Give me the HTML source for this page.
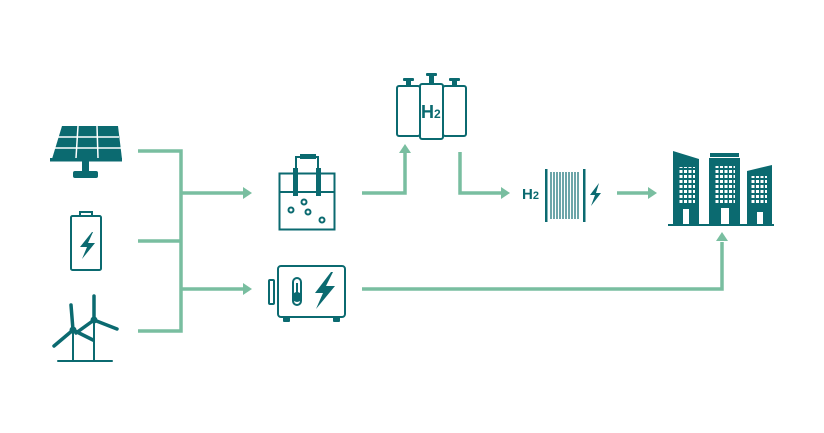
<!DOCTYPE html>
<html><head><style>html,body{margin:0;padding:0;background:#fff}svg{display:block}</style></head><body>
<svg width="824" height="433" viewBox="0 0 824 433" xmlns="http://www.w3.org/2000/svg">
<defs>
<pattern id="win" x="0" y="0" width="4.5" height="5" patternUnits="userSpaceOnUse"><rect x="0" y="0" width="3" height="3" fill="#fff"/></pattern>
</defs>
<g fill="none" stroke="#79bea0" stroke-width="3.5">
<path d="M138 151H181V331H138M138 241H181M181 193H244M181 289H244"/>
<path d="M362 193H405V153"/>
<path d="M460 152V193H502"/>
<path d="M617 193H650"/>
<path d="M362 289H722V242"/>
</g>
<g fill="#79bea0">
<path d="M252 193l-9-6v12z"/><path d="M252 289l-9-6v12z"/>
<path d="M405 144l-6 9h12z"/><path d="M510 193l-9-6v12z"/>
<path d="M657 193l-9-6v12z"/><path d="M722 232l-6 9h12z"/>
</g>
<g fill="#0b6a70" stroke="none">
<path d="M62 126h56l4 33H52z"/>
<rect x="50" y="158" width="72" height="3.5"/>
<rect x="82" y="161" width="7" height="11"/>
<rect x="73" y="171" width="25" height="7" rx="2"/>
</g>
<g stroke="#fff" stroke-width="1.5">
<path d="M55 137H119M53 148H121M78 126L76 158M97 126L98 158"/>
</g>
<g fill="none" stroke="#0b6a70" stroke-width="2">
<rect x="71" y="216" width="30" height="54" rx="1.5"/>
<path d="M80 216v-4h12v4"/>
<rect x="279.5" y="173.5" width="55" height="56"/>
<path d="M279.5 192H334.5"/>
<path d="M296 172v-15h22v15"/>
<circle cx="304" cy="202" r="2.5"/><circle cx="291" cy="210" r="2.5"/><circle cx="308" cy="212" r="2.5"/><circle cx="322" cy="220" r="2.5"/>
<rect x="278" y="266" width="67" height="51" rx="3"/>
<rect x="269" y="280" width="5" height="24" rx="1"/>
<rect x="293" y="278" width="8" height="27" rx="4"/>
<rect x="397" y="86" width="23" height="50" rx="2"/>
<rect x="443" y="86" width="23" height="50" rx="2"/>
<rect x="420" y="84" width="23" height="55" rx="2"/>
</g>
<g fill="#0b6a70">
<path d="M92 232l-12 15h7l-5 12 13-16h-7l5-11z"/>
<rect x="293" y="168" width="5" height="28"/><rect x="316" y="168" width="5" height="28"/>
<rect x="300" y="154" width="16" height="5"/>
<circle cx="297" cy="297" r="5"/><rect x="296" y="283" width="2" height="12"/>
<path d="M331 272l-16 21h8l-7 16 19-23h-9l7-14z"/>
<rect x="283" y="317" width="7" height="5" rx="1"/><rect x="333" y="317" width="7" height="5" rx="1"/>
<rect x="403" y="78" width="11" height="3" rx="1"/><rect x="406" y="81" width="5" height="5"/>
<rect x="426" y="73" width="11" height="3" rx="1"/><rect x="429" y="76" width="5" height="8"/>
<rect x="449" y="78" width="11" height="3" rx="1"/><rect x="452" y="81" width="5" height="5"/>
<rect x="545" y="169" width="2.5" height="53"/><rect x="583" y="169" width="2.5" height="53"/>
<path d="M599 183l-9 12h5l-4 11 10-13h-5l3-10z"/>
<path d="M673 151l26 8v65h-26z"/>
<rect x="709" y="158" width="31" height="66"/><rect x="710" y="153" width="29" height="4"/>
<path d="M747 171l25-6v59h-25z"/>
<rect x="668" y="224" width="106" height="2"/>
</g>
<g stroke="#0b6a70" stroke-width="1.2">
<path d="M551 172v47M554 172v47M557 172v47M560 172v47M563 172v47M566 172v47M569 172v47M572 172v47M575 172v47M578 172v47"/>
</g>
<g>
<rect x="679" y="167" width="16" height="38" fill="url(#win)" transform="translate(0,0)"/>
<rect x="683" y="209" width="6" height="15" fill="#fff"/>
<rect x="715" y="166" width="20" height="38" fill="url(#win)"/>
<rect x="721" y="208" width="8" height="16" fill="#fff"/>
<rect x="751" y="176" width="16" height="29" fill="url(#win)"/>
<rect x="757" y="212" width="6" height="12" fill="#fff"/>
</g>
<g stroke="#0b6a70" stroke-width="2" fill="none" stroke-linecap="round">
<path d="M58 361H112"/>
<path d="M73 331V361M94 321V361"/>
</g>
<g stroke="#0b6a70" stroke-width="3.5" fill="none" stroke-linecap="round">
<path d="M73 330L71 305M73 330L54 346M73 330L93 340"/>
<path d="M94 320L94 296M94 320L76 333M94 320L117 329"/>
</g>
<g fill="#0b6a70"><circle cx="73" cy="330" r="3.5"/><circle cx="94" cy="320" r="3.5"/></g>
<text x="421" y="118" font-family="Liberation Sans, sans-serif" font-weight="bold" font-size="18" fill="#0b6a70">H<tspan font-size="12">2</tspan></text>
<text x="522" y="199" font-family="Liberation Sans, sans-serif" font-weight="bold" font-size="15" fill="#0b6a70">H<tspan font-size="11">2</tspan></text>
</svg>
</body></html>
